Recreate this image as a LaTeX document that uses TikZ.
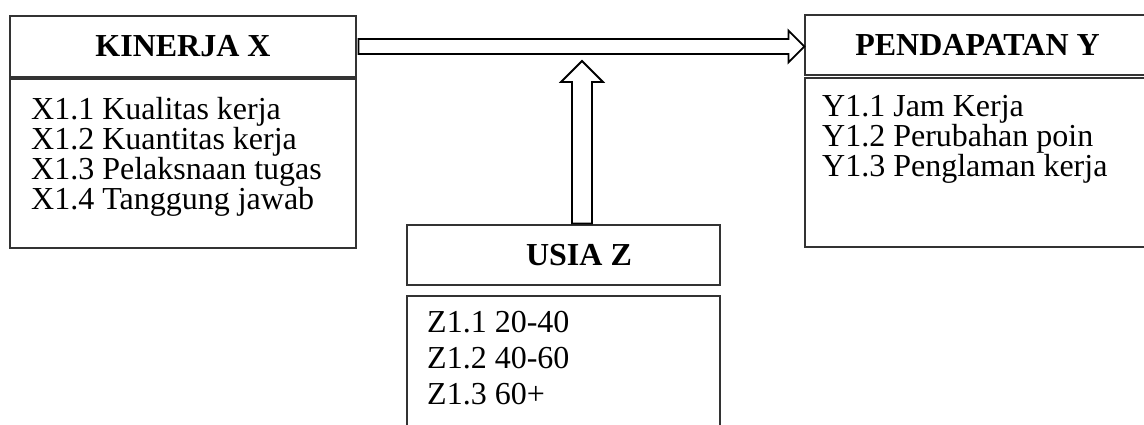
\documentclass[tikz,border=0pt]{standalone}
\usepackage{fontspec}
\setmainfont{Liberation Serif}
\usetikzlibrary{calc}
\begin{document}
\begin{tikzpicture}[x=1pt, y=-1pt, font=\fontsize{32}{30}\selectfont,
  box/.style={draw=black!80, line width=1.1pt, inner sep=0pt},
  title/.style={inner sep=0pt, font=\fontsize{32}{30}\selectfont\bfseries},
  items/.style={anchor=north west, align=left, inner sep=0pt},
  rightblock/.style={draw, line width=1.8pt, fill=white, to path={let \p1=(\tikztostart), \p2=(\tikztotarget) in (\x1,\y1+7.5pt) -- (\x2-16pt,\y1+7.5pt) -- (\x2-16pt,\y1+16pt) -- (\x2,\y1) -- (\x2-16pt,\y1-16pt) -- (\x2-16pt,\y1-7.5pt) -- (\x1,\y1-7.5pt) -- cycle}},
  upblock/.style={draw, line width=1.8pt, fill=white, to path={let \p1=(\tikztostart), \p2=(\tikztotarget) in (\x1-10pt,\y1) -- (\x1-10pt,\y2-21pt) -- (\x1-21pt,\y2-21pt) -- (\x1,\y2) -- (\x1+21pt,\y2-21pt) -- (\x1+10pt,\y2-21pt) -- (\x1+10pt,\y1) -- cycle}}]
\useasboundingbox (0,0) rectangle (1144,425);
% kinerja X
\node[box, minimum width=346pt, minimum height=61pt] (kinerja) at (183,46.5) {};
\node[title] (kinerjatitle) at (kinerja) {KINERJA X};
\node[box, minimum width=346pt, minimum height=169pt] (kinerjalist) at (183,163.5) {};
\node[items] (kinerjaitems) at (31,97) {X1.1 Kualitas kerja\\X1.2 Kuantitas kerja\\X1.3 Pelaksnaan tugas\\X1.4 Tanggung jawab};
% pendapatan Y
\node[box, minimum width=360pt, minimum height=60pt] (pendapatan) at (985,45) {};
\node[title, xshift=-7.5pt] (pendapatantitle) at (pendapatan) {PENDAPATAN Y};
\node[box, minimum width=360pt, minimum height=169pt] (pendapatanlist) at (985,162.5) {};
\node[items] (pendapatanitems) at (822,95.5) {Y1.1 Jam Kerja\\Y1.2 Perubahan poin\\Y1.3 Penglaman kerja};
% usia Z
\node[box, minimum width=313pt, minimum height=60pt] (usia) at (563.5,255) {};
\node[title, xshift=15.5pt] (usiatitle) at (usia) {USIA Z};
\node[box, minimum width=313pt, minimum height=144pt] (usialist) at (563.5,368) {};
\node[items, font=\fontsize{32}{36}\selectfont] (usiaitems) at (427,311.5) {Z1.1 20-40\\Z1.2 40-60\\Z1.3 60+};
% arrows
\coordinate (usiatip) at (582,61);
\draw[rightblock] ($(kinerja.east)+(2,0)$) to (pendapatan.west);
\draw[upblock] ($(usia.north)+(18.5,-1)$) to (usiatip);
\end{tikzpicture}
\end{document}
